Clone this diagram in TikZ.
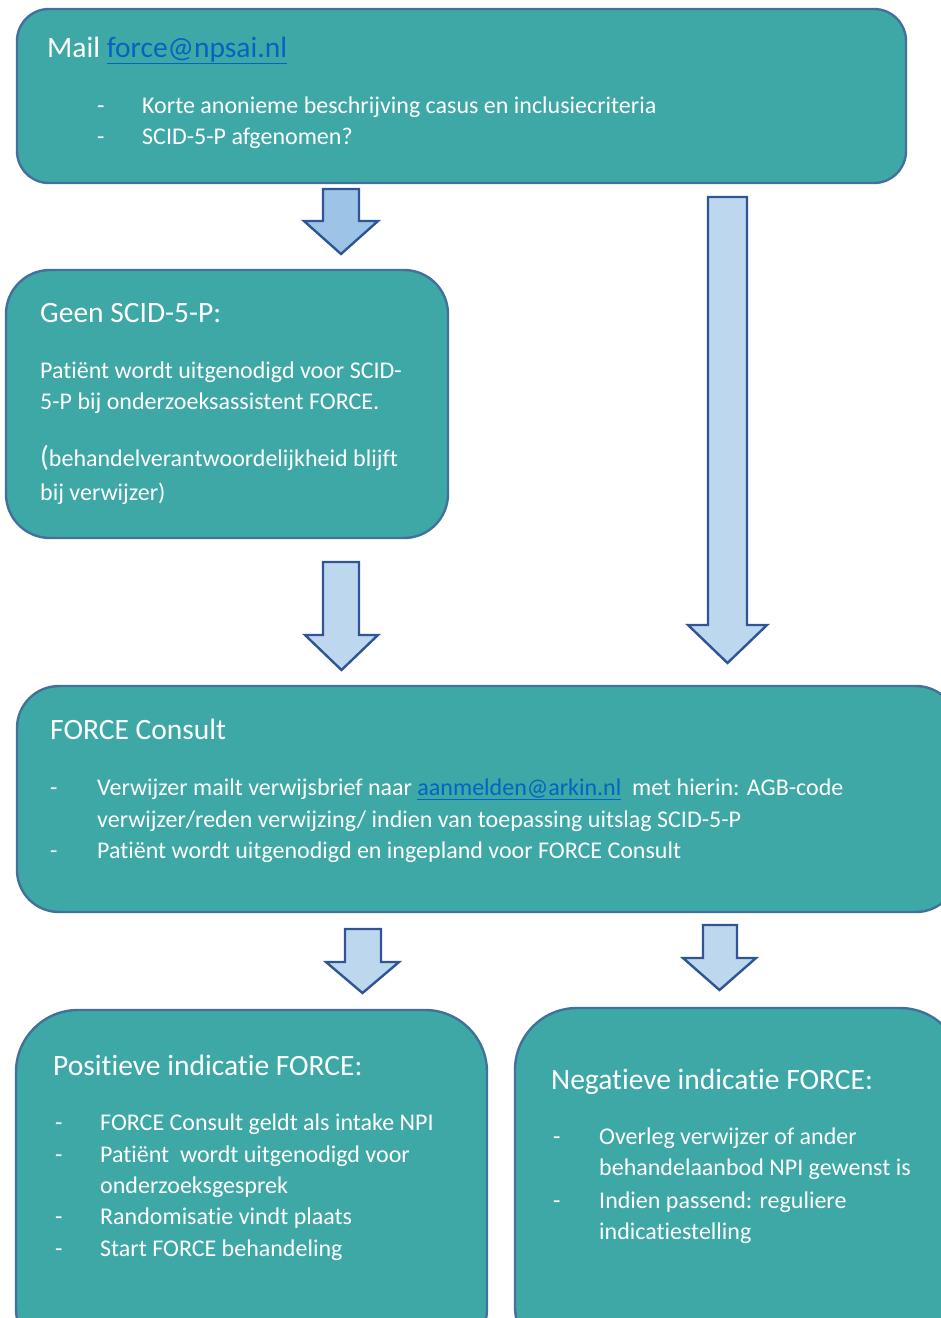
\documentclass[tikz,border=0pt]{standalone}
\usepackage{fontspec}
\setmainfont{Carlito}[Ligatures={NoCommon}]
\definecolor{tealfill}{RGB}{62,168,167}
\definecolor{boxedge}{RGB}{65,113,156}
\definecolor{arrfill}{RGB}{189,215,238}
\definecolor{arrfilldark}{RGB}{157,195,230}
\definecolor{arredge}{RGB}{47,85,151}
\definecolor{linkblue}{RGB}{5,99,193}
\tikzset{
  flowbox/.style={draw=boxedge, fill=tealfill, line width=2.4pt, inner sep=0pt},
  blockarrow/.style={draw=arredge, fill=arrfill, line width=2.4pt, line join=miter},
  tx/.style={anchor=base west, inner sep=0pt, text=white, font=\fontsize{24}{29}\selectfont},
  ttl/.style={tx, font=\fontsize{29.5}{35}\selectfont},
}
\newcommand\mylink[1]{\textcolor{linkblue}{\underline{#1}}}
% shaft left, shaft right, top, head left, head right, head y, tip x, tip y
\newcommand\blockarr[9]{%
  \draw[blockarrow,#9] (#1,#3) -- (#2,#3) -- (#2,#6) -- (#5,#6) -- (#7,#8) -- (#4,#6) -- (#1,#6) -- cycle;}
\begin{document}
\begin{tikzpicture}[x=1pt,y=-1pt]
\useasboundingbox (0,0) rectangle (941,1318);
\clip (0,0) rectangle (941,1318);

% boxes
\node[flowbox, rounded corners=32pt, minimum width=889pt, minimum height=174pt] (mail) at (461.5,96) {};
\node[flowbox, rounded corners=44pt, minimum width=442pt, minimum height=268pt] (geen) at (227,404) {};
\node[flowbox, rounded corners=42pt, minimum width=941pt, minimum height=226pt] (consult) at (487.5,799) {};
\node[flowbox, rounded corners=62pt, minimum width=471pt, minimum height=360pt] (pos) at (251.5,1190) {};
\node[flowbox, rounded corners=62pt, minimum width=447pt, minimum height=360pt] (neg) at (738.5,1188) {};

% block arrows
\blockarr{323}{359}{189}{304}{378}{221}{341}{254}{fill=arrfilldark}
\blockarr{708}{747}{197}{688}{767}{625}{727.5}{663}{}
\blockarr{323}{359}{562}{305}{378}{635}{341.5}{670}{}
\blockarr{345}{381}{929}{326}{399}{962}{362.5}{993}{}
\blockarr{703}{737}{925}{683}{756}{958}{719.5}{990}{}

% box 1 text
\node[ttl] (t1) at (47,57) {Mail \mylink{force@npsai.nl}};
\node[tx] (t1a) at (97,113) {-};
\node[tx] (t1b) at (142,113) {Korte anonieme beschrijving casus en inclusiecriteria};
\node[tx] (t1c) at (97,144) {-};
\node[tx] (t1d) at (142,144) {SCID-5-P afgenomen?};

% box 2 text
\node[ttl] (t2) at (40,322) {Geen SCID-5-P:};
\node[tx] (t2a) at (40,378) {Patiënt wordt uitgenodigd voor SCID-};
\node[tx] (t2b) at (40,409) {5-P bij onderzoeksassistent FORCE.};
\node[tx] (t2c) at (40,466) {{\fontsize{29}{34}\selectfont(}behandelverantwoordelijkheid blijft};
\node[tx] (t2d) at (40,500) {bij verwijzer)};

% box 3 text
\node[ttl] (t3) at (50,739) {FORCE Consult};
\node[tx] (t3a) at (50,795) {-};
\node[tx] (t3b) at (97,795) {Verwijzer mailt verwijsbrief naar \mylink{aanmelden@arkin.nl}\ \ met hierin: AGB-code};
\node[tx] (t3c) at (97,827) {verwijzer/reden verwijzing/ indien van toepassing uitslag SCID-5-P};
\node[tx] (t3d) at (50,858) {-};
\node[tx] (t3e) at (97,858) {Patiënt wordt uitgenodigd en ingepland voor FORCE Consult};

% box 4 text
\node[ttl] (t4) at (53,1075) {Positieve indicatie FORCE:};
\node[tx] (t4a) at (55,1130) {-};
\node[tx] (t4b) at (100,1130) {FORCE Consult geldt als intake NPI};
\node[tx] (t4c) at (55,1162) {-};
\node[tx] (t4d) at (100,1162) {Patiënt\ \ wordt uitgenodigd voor};
\node[tx] (t4e) at (100,1193) {onderzoeksgesprek};
\node[tx] (t4f) at (55,1224) {-};
\node[tx] (t4g) at (100,1224) {Randomisatie vindt plaats};
\node[tx] (t4h) at (55,1256) {-};
\node[tx] (t4i) at (100,1256) {Start FORCE behandeling};

% box 5 text
\node[ttl] (t5) at (551,1089) {Negatieve indicatie FORCE:};
\node[tx] (t5a) at (553,1144) {-};
\node[tx] (t5b) at (599,1144) {Overleg verwijzer of ander};
\node[tx] (t5c) at (599,1175) {behandelaanbod NPI gewenst is};
\node[tx] (t5d) at (553,1208) {-};
\node[tx] (t5e) at (599,1208) {Indien passend: reguliere};
\node[tx] (t5f) at (599,1239) {indicatiestelling};
\end{tikzpicture}
\end{document}
